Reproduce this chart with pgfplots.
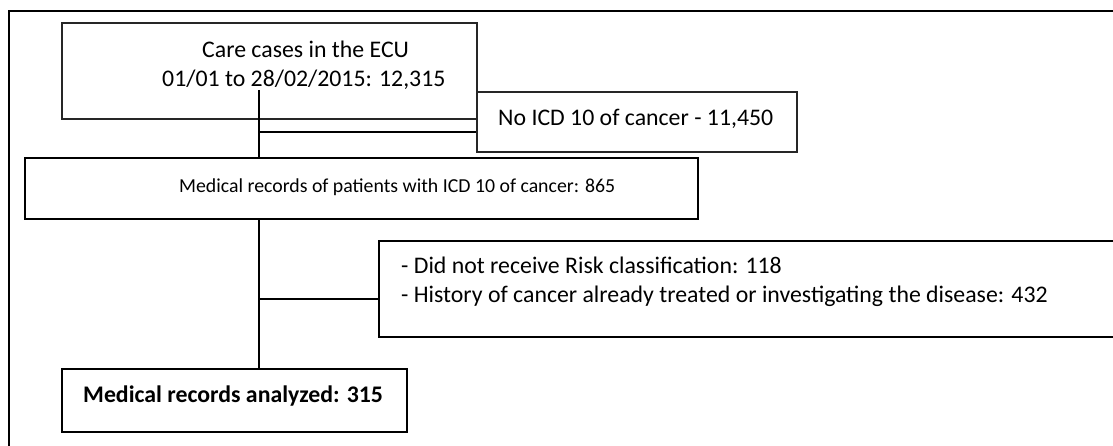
\documentclass[border=0pt]{standalone}
\usepackage{pgfplots}
\pgfplotsset{compat=1.18}
\usepackage{fontspec}
\setmainfont{Carlito}
\begin{document}
\begin{tikzpicture}
\begin{axis}[scale only axis, width=1113pt, height=446pt,
  xmin=0, xmax=1113, ymin=0, ymax=446, y dir=reverse,
  hide axis, clip=true]
% background
\addplot[draw=none, fill=white] coordinates {(0,0) (1113,0) (1113,446) (0,446)} -- cycle;
% outer frame
\addplot[black, line width=1.6pt] coordinates {(9,520) (9,11) (1200,11)};
% box 1
\addplot[black!85, line width=1.2pt, fill=white] coordinates {(62,23) (477,23) (477,119) (62,119)} -- cycle;
% connectors
\addplot[black, line width=1.2pt] coordinates {(259,90) (259,369)};
\addplot[black, line width=1.2pt] coordinates {(259,132) (477,132)};
\addplot[black, line width=1.2pt] coordinates {(259,299) (379,299)};
% box 2
\addplot[black!85, line width=1.2pt, fill=white] coordinates {(477,92) (797,92) (797,152) (477,152)} -- cycle;
% box 3
\addplot[black, line width=1.2pt, fill=white] coordinates {(25,158) (698,158) (698,219) (25,219)} -- cycle;
% box 4
\addplot[black, line width=1.2pt, fill=white] coordinates {(379,241) (1200,241) (1200,337) (379,337)} -- cycle;
% box 5
\addplot[black, line width=1.2pt, fill=white] coordinates {(62,369) (407,369) (407,432) (62,432)} -- cycle;
% texts
\node[anchor=base west, inner sep=0pt] at (axis cs:202,57.7) {\fontsize{23.8}{28}\selectfont Care cases in the ECU};
\node[anchor=base west, inner sep=0pt] at (axis cs:162,87) {\fontsize{23.8}{28}\selectfont 01/01 to 28/02/2015: 12,315};
\node[anchor=base west, inner sep=0pt] at (axis cs:498,125.7) {\fontsize{23.8}{28}\selectfont No ICD 10 of cancer - 11,450};
\node[anchor=base west, inner sep=0pt] at (axis cs:179,192.5) {\fontsize{19.8}{24}\selectfont Medical records of patients with ICD 10 of cancer: 865};
\node[anchor=base west, inner sep=0pt] at (axis cs:401,273) {\fontsize{23.8}{28}\selectfont - Did not receive Risk classification: 118};
\node[anchor=base west, inner sep=0pt] at (axis cs:401,302.7) {\fontsize{23.8}{28}\selectfont - History of cancer already treated or investigating the disease: 432};
\node[anchor=base west, inner sep=0pt] at (axis cs:83,402.7) {\fontsize{23.8}{28}\selectfont\bfseries Medical records analyzed: 315};
\end{axis}
\end{tikzpicture}
\end{document}
